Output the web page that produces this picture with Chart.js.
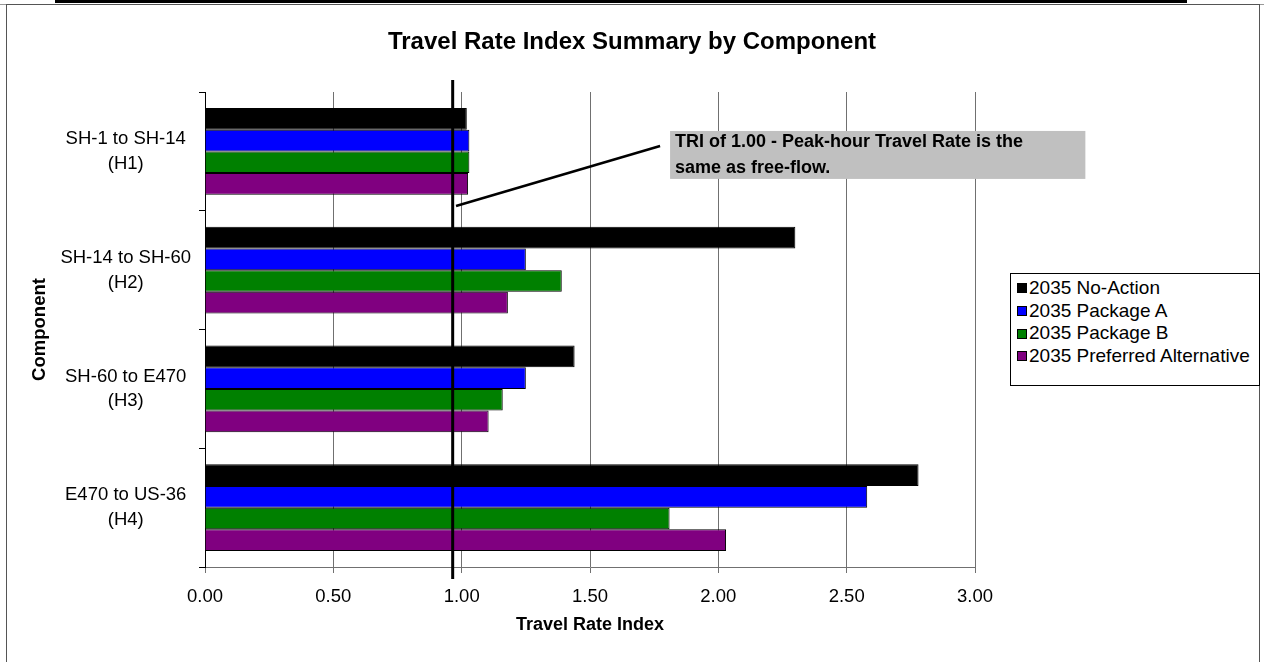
<!DOCTYPE html>
<html>
<head>
<meta charset="utf-8">
<script src="https://cdn.jsdelivr.net/npm/chart.js@4.4.1/dist/chart.umd.min.js"></script>
<style>
html,body{margin:0;padding:0;background:#fff;}
#wrap{position:relative;width:1264px;height:662px;overflow:hidden;font-family:"Liberation Sans",Arial,sans-serif;}
#topbar{position:absolute;left:55px;top:0;width:1132px;height:3px;background:#000;}
#topline{position:absolute;left:0;top:4px;width:1264px;height:1px;background:#999;}
#frame{position:absolute;left:6px;top:4px;width:1254px;height:700px;border:1px solid #555;box-sizing:border-box;}
#c{position:absolute;left:0;top:0;}
#legend{position:absolute;left:1010px;top:273px;width:250px;height:113px;border:1px solid #000;box-sizing:border-box;background:#fff;padding:3px 0 0 6px;}
.item{display:flex;align-items:center;height:22.7px;font-size:19px;color:#000;white-space:nowrap;line-height:22.7px;}
.sw{width:8px;height:8px;border:1px solid #000;margin-right:2px;flex:none;}
</style>
</head>
<body>
<div id="wrap">
  <div id="topline"></div>
  <div id="topbar"></div>
  <div id="frame"></div>
  <canvas id="c" width="1264" height="662"></canvas>
  <div id="legend"></div>
</div>
<script>
// ---- data ----
const categories = [["SH-1 to SH-14","(H1)"],["SH-14 to SH-60","(H2)"],["SH-60 to E470","(H3)"],["E470 to US-36","(H4)"]];
const seriesNames = ["2035 No-Action","2035 Package A","2035 Package B","2035 Preferred Alternative"];
const noAction  = [1.02, 2.30, 1.44, 2.78];
const packageA  = [1.03, 1.25, 1.25, 2.58];
const packageB  = [1.03, 1.39, 1.16, 1.81];
const preferred = [1.025, 1.18, 1.105, 2.03];
const seriesColors = ["#000000","#0000FF","#008000","#800080"];
const xMin = 0, xMax = 3, xStep = 0.5;
const chartTitle = "Travel Rate Index Summary by Component";
const xTitle = "Travel Rate Index";
const yTitle = "Component";
const calloutLines = ["TRI of 1.00 - Peak-hour Travel Rate is the", "same as free-flow."];
// annotation positions in data units (x: TRI value, y: category index)
const triLineValue = 0.965;
const pointer = {x1:0.978, y1:0.46, x2:1.773, y2:-0.045};
const calloutBox = {x1:1.812, x2:3.43, y1:-0.172, y2:0.232, textX:1.831, lineY:[-0.08, 0.14]};

const FONT = '"Liberation Sans", Arial, sans-serif';
const seriesData = [noAction, packageA, packageB, preferred];

const annotationPlugin = {
  id: 'triAnnotation',
  afterDatasetsDraw(chart) {
    const ctx = chart.ctx, xs = chart.scales.x, ys = chart.scales.y, ca = chart.chartArea;
    ctx.save();
    const lx = xs.getPixelForValue(triLineValue);
    ctx.strokeStyle = '#000'; ctx.lineWidth = 3;
    ctx.beginPath(); ctx.moveTo(lx, ca.top - 12); ctx.lineTo(lx, ca.bottom + 12); ctx.stroke();
    ctx.lineWidth = 2.5;
    ctx.beginPath();
    ctx.moveTo(xs.getPixelForValue(pointer.x1), ys.getPixelForValue(pointer.y1));
    ctx.lineTo(xs.getPixelForValue(pointer.x2), ys.getPixelForValue(pointer.y2));
    ctx.stroke();
    const bx1 = xs.getPixelForValue(calloutBox.x1), bx2 = xs.getPixelForValue(calloutBox.x2);
    const by1 = ys.getPixelForValue(calloutBox.y1), by2 = ys.getPixelForValue(calloutBox.y2);
    ctx.fillStyle = '#C0C0C0';
    ctx.fillRect(bx1, by1, bx2 - bx1, by2 - by1);
    ctx.fillStyle = '#000';
    ctx.font = 'bold 18px ' + FONT;
    ctx.textAlign = 'left'; ctx.textBaseline = 'middle';
    calloutLines.forEach((t, i) => ctx.fillText(t, xs.getPixelForValue(calloutBox.textX), ys.getPixelForValue(calloutBox.lineY[i])));
    ctx.restore();
  }
};

const chart = new Chart(document.getElementById('c'), {
  type: 'bar',
  data: {
    labels: categories,
    datasets: seriesNames.map((n, i) => ({
      label: n,
      data: seriesData[i],
      backgroundColor: seriesColors[i],
      borderColor: '#000',
      borderWidth: 1,
      barPercentage: 1.0,
      categoryPercentage: 0.73
    }))
  },
  options: {
    indexAxis: 'y',
    responsive: false,
    animation: false,
    devicePixelRatio: 1,
    layout: { padding: { top: 0, left: 0, right: 0, bottom: 0 } },
    plugins: {
      legend: { display: false },
      tooltip: { enabled: false },
      title: {
        display: true, text: chartTitle, color: '#000',
        font: { family: FONT, size: 24, weight: 'bold', lineHeight: 1.2 },
        padding: { top: 28, bottom: 35.2 }
      }
    },
    scales: {
      x: {
        type: 'linear', min: xMin, max: xMax,
        ticks: { stepSize: xStep, color: '#000', padding: 13, font: { family: FONT, size: 18.5 },
                 callback: v => Number(v).toFixed(2) },
        grid: { color: '#707070', lineWidth: 1, tickLength: 6, tickColor: '#707070' },
        border: { display: true, color: '#707070', width: 1 },
        title: { display: true, text: xTitle, color: '#000', font: { family: FONT, size: 18, weight: 'bold' }, padding: { top: 0, bottom: 26 } },
        afterFit(s) { s.height = 95; }
      },
      y: {
        type: 'category',
        ticks: { color: '#000', padding: 8, crossAlign: 'center', font: { family: FONT, size: 18.5, lineHeight: 1.33 } },
        grid: { display: true, drawOnChartArea: false, drawTicks: true, tickLength: 6, color: '#000', offset: true },
        border: { display: true, color: '#000', width: 1 },
        title: { display: true, text: yTitle, color: '#000', font: { family: FONT, size: 18.5, weight: 'bold' }, padding: { top: 29, bottom: 0 } },
        afterFit(s) { s.width = 205; }
      },
      yRight: {
        type: 'linear', position: 'right', display: true,
        grid: { display: false }, ticks: { display: false }, border: { display: false },
        afterFit(s) { s.width = 289; }
      }
    }
  },
  plugins: [annotationPlugin]
});

const leg = document.getElementById('legend');
chart.data.datasets.forEach(ds => {
  const row = document.createElement('div'); row.className = 'item';
  const sw = document.createElement('span'); sw.className = 'sw'; sw.style.background = ds.backgroundColor;
  const tx = document.createElement('span'); tx.textContent = ds.label;
  row.appendChild(sw); row.appendChild(tx); leg.appendChild(row);
});
</script>
</body>
</html>
